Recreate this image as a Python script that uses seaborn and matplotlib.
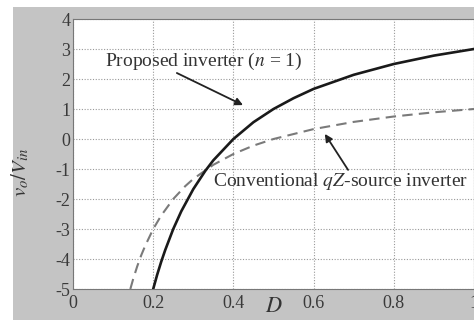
import numpy as np
import pandas as pd
import matplotlib
matplotlib.use('Agg')
import matplotlib.pyplot as plt
from matplotlib.patches import Rectangle
import seaborn as sns

# 값
d_proposed = [0.2, 0.21, 0.22, 0.23, 0.25, 0.27, 0.3, 0.33, 0.35, 0.4, 0.45, 0.5,
              0.55, 0.6, 0.7, 0.8, 0.9, 1.0]
v_proposed = [-5.0, -4.52, -4.09, -3.70, -3.0, -2.41, -1.67, -1.06, -0.71, 0.0, 0.56, 1.0,
              1.36, 1.67, 2.14, 2.5, 2.78, 3.0]
d_conv = [0.143, 0.15, 0.16, 0.17, 0.18, 0.2, 0.22, 0.25, 0.28, 0.3, 0.35, 0.4, 0.45, 0.5,
          0.6, 0.7, 0.8, 0.9, 1.0]
v_conv = [-5.0, -4.67, -4.25, -3.88, -3.56, -3.0, -2.55, -2.0, -1.57, -1.33, -0.86, -0.5,
          -0.22, 0.0, 0.33, 0.57, 0.75, 0.89, 1.0]
x_ticks = [0, 0.2, 0.4, 0.6, 0.8, 1]
x_labels = ['0', '0.2', '0.4', '0.6', '0.8', '1']
y_ticks = [-5, -4, -3, -2, -1, 0, 1, 2, 3, 4]

sns.set_theme(style='whitegrid')
plt.rcParams['font.family'] = ['Liberation Serif', 'DejaVu Serif']
plt.rcParams['mathtext.fontset'] = 'stix'
plt.rcParams['axes.unicode_minus'] = False

fig = plt.figure(figsize=(4.74, 3.2), dpi=100, facecolor='white')
fig.patches.append(Rectangle((13 / 474, 0), 1, 1 - 7 / 320, transform=fig.transFigure,
                             facecolor='#c4c4c4', edgecolor='none', zorder=-10))
ax = fig.add_axes([73 / 474, 31 / 320, 401 / 474, 270 / 320])
ax.set_facecolor('white')

df_p = pd.DataFrame({'D': d_proposed, 'v': v_proposed})
df_c = pd.DataFrame({'D': d_conv, 'v': v_conv})
sns.lineplot(data=df_c, x='D', y='v', ax=ax, color='#7a7a7a', lw=1.5,
             linestyle=(0, (5, 3)), zorder=3)
sns.lineplot(data=df_p, x='D', y='v', ax=ax, color='#1a1a1a', lw=1.9, zorder=4)

ax.set_xlim(0, 1)
ax.set_ylim(-5, 4)
ax.set_xticks(x_ticks)
ax.set_xticklabels(x_labels)
ax.set_yticks(y_ticks)
ax.tick_params(length=0, labelsize=13, labelcolor='#3a3a3a')
ax.tick_params(axis='x', pad=4)
ax.tick_params(axis='y', pad=2)
ax.grid(True, color='#999999', linestyle=(0, (1, 1.5)), lw=0.8)
for s in ax.spines.values():
    s.set_color('#777777')
    s.set_linewidth(0.8)

ax.set_xlabel('$D$', fontsize=16, color='#333333')
ax.xaxis.set_label_coords(0.5, -0.035)
ax.set_ylabel('$v_o/V_{in}$', fontsize=15, color='#333333')
ax.yaxis.set_label_coords(-0.105, 0.43)

# 주석 텍스트 + 화살표
ax.text(0.327, 2.57, 'Proposed inverter ($n$ = 1)', fontsize=14, color='#333333',
        ha='center', va='center')
ax.annotate('', xy=(0.424, 1.13), xytext=(0.259, 2.2),
            arrowprops=dict(arrowstyle='-|>', color='#222222', lw=1.3,
                            mutation_scale=11, shrinkA=0, shrinkB=0))
ax.text(0.668, -1.43, 'Conventional $qZ$-source inverter', fontsize=14, color='#333333',
        ha='center', va='center')
ax.annotate('', xy=(0.628, 0.17), xytext=(0.686, -1.03),
            arrowprops=dict(arrowstyle='-|>', color='#222222', lw=1.3,
                            mutation_scale=11, shrinkA=0, shrinkB=0))

plt.savefig('out.png', dpi=100, facecolor=fig.get_facecolor())
